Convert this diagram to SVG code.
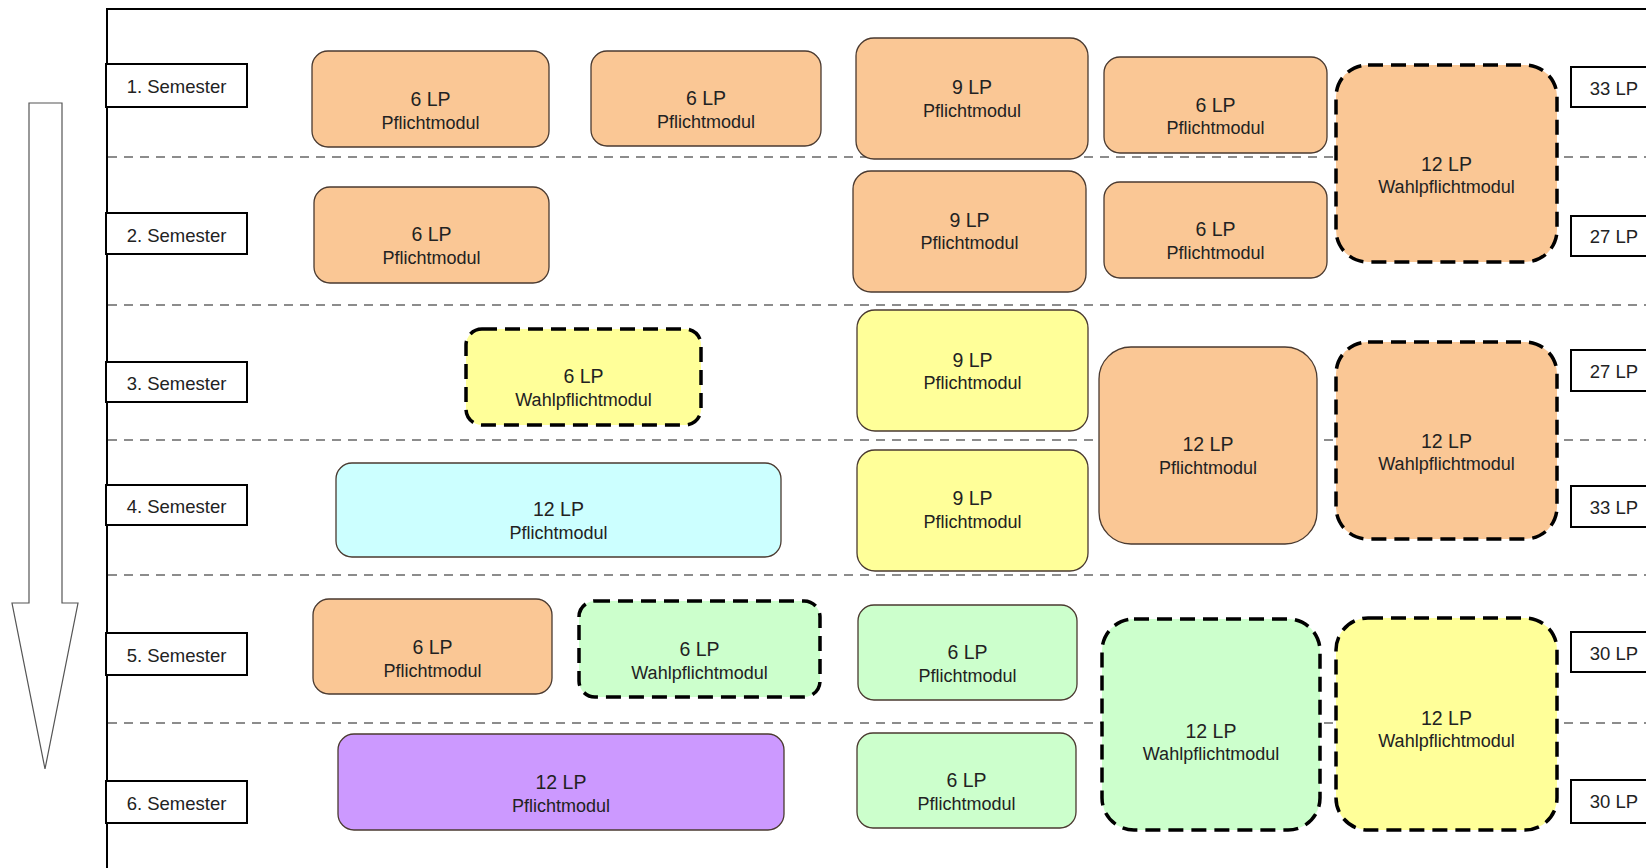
<svg xmlns="http://www.w3.org/2000/svg" width="1646" height="868" viewBox="0 0 1646 868">
<style>
text{font-family:"Liberation Sans",Arial,sans-serif;fill:#222;text-anchor:middle}
.lp{font-size:19.5px}
.ty{font-size:18px}
.sem{font-size:18.5px}
.m{stroke:#4a3a30;stroke-width:1.3}
.d{stroke:#000;stroke-width:3.5;stroke-dasharray:15 8}
.or{fill:#FAC795}.ye{fill:#FFFF99}.cy{fill:#CCFFFF}.gr{fill:#CCFFCC}.pu{fill:#CC99FF}
.sep{stroke:#8c8c8c;stroke-width:2;stroke-dasharray:9 7;fill:none}
.lbl{fill:#fff;stroke:#000;stroke-width:2}
</style>
<rect width="1646" height="868" fill="#fff"/>
<g id="arrow"><polygon points="29,103 62,103 62,603 78,603 45,769 12,603 29,603" fill="#fff" stroke="#555" stroke-width="1.2"/></g>
<g id="frame" fill="none" stroke="#000" stroke-width="2"><path d="M107,868 V9 H1646"/></g>
<g id="separators">
<line class="sep" x1="108" y1="157" x2="1646" y2="157"/>
<line class="sep" x1="108" y1="305" x2="1646" y2="305"/>
<line class="sep" x1="108" y1="440" x2="1646" y2="440"/>
<line class="sep" x1="108" y1="575" x2="1646" y2="575"/>
<line class="sep" x1="108" y1="723" x2="1646" y2="723"/>
</g>
<g id="m1"><rect class="m or" x="312" y="51" width="237" height="96" rx="16"/><text class="lp" x="430.5" y="106">6 LP</text><text class="ty" x="430.5" y="128.5">Pflichtmodul</text></g>
<g id="m2"><rect class="m or" x="314" y="187" width="235" height="96" rx="16"/><text class="lp" x="431.5" y="241">6 LP</text><text class="ty" x="431.5" y="263.5">Pflichtmodul</text></g>
<g id="m3"><rect class="d ye" x="466" y="329" width="235" height="96" rx="16"/><text class="lp" x="583.5" y="383">6 LP</text><text class="ty" x="583.5" y="405.5">Wahlpflichtmodul</text></g>
<g id="m4"><rect class="m cy" x="336" y="463" width="445" height="94" rx="16"/><text class="lp" x="558.5" y="516">12 LP</text><text class="ty" x="558.5" y="538.5">Pflichtmodul</text></g>
<g id="m5"><rect class="m or" x="313" y="599" width="239" height="95" rx="16"/><text class="lp" x="432.5" y="654">6 LP</text><text class="ty" x="432.5" y="676.5">Pflichtmodul</text></g>
<g id="m6"><rect class="d gr" x="579" y="601" width="241" height="96" rx="16"/><text class="lp" x="699.5" y="656">6 LP</text><text class="ty" x="699.5" y="678.5">Wahlpflichtmodul</text></g>
<g id="m7"><rect class="m pu" x="338" y="734" width="446" height="96" rx="16"/><text class="lp" x="561" y="789">12 LP</text><text class="ty" x="561" y="811.5">Pflichtmodul</text></g>
<g id="m8"><rect class="m or" x="591" y="51" width="230" height="95" rx="16"/><text class="lp" x="706" y="105">6 LP</text><text class="ty" x="706" y="127.5">Pflichtmodul</text></g>
<g id="m9"><rect class="m or" x="856" y="38" width="232" height="121" rx="18"/><text class="lp" x="972" y="94">9 LP</text><text class="ty" x="972" y="116.5">Pflichtmodul</text></g>
<g id="m10"><rect class="m or" x="853" y="171" width="233" height="121" rx="18"/><text class="lp" x="969.5" y="226.5">9 LP</text><text class="ty" x="969.5" y="249">Pflichtmodul</text></g>
<g id="m11"><rect class="m ye" x="857" y="310" width="231" height="121" rx="18"/><text class="lp" x="972.5" y="367">9 LP</text><text class="ty" x="972.5" y="389">Pflichtmodul</text></g>
<g id="m12"><rect class="m ye" x="857" y="450" width="231" height="121" rx="18"/><text class="lp" x="972.5" y="505">9 LP</text><text class="ty" x="972.5" y="527.5">Pflichtmodul</text></g>
<g id="m13"><rect class="m gr" x="858" y="605" width="219" height="95" rx="16"/><text class="lp" x="967.5" y="659">6 LP</text><text class="ty" x="967.5" y="681.5">Pflichtmodul</text></g>
<g id="m14"><rect class="m gr" x="857" y="733" width="219" height="95" rx="16"/><text class="lp" x="966.5" y="787">6 LP</text><text class="ty" x="966.5" y="809.5">Pflichtmodul</text></g>
<g id="m15"><rect class="m or" x="1104" y="57" width="223" height="96" rx="16"/><text class="lp" x="1215.5" y="111.5">6 LP</text><text class="ty" x="1215.5" y="134">Pflichtmodul</text></g>
<g id="m16"><rect class="m or" x="1104" y="182" width="223" height="96" rx="16"/><text class="lp" x="1215.5" y="236">6 LP</text><text class="ty" x="1215.5" y="258.5">Pflichtmodul</text></g>
<g id="m17"><rect class="m or" x="1099" y="347" width="218" height="197" rx="32"/><text class="lp" x="1208" y="451">12 LP</text><text class="ty" x="1208" y="473.5">Pflichtmodul</text></g>
<g id="m18"><rect class="d gr" x="1102" y="619" width="218" height="211" rx="32"/><text class="lp" x="1211" y="737.5">12 LP</text><text class="ty" x="1211" y="760">Wahlpflichtmodul</text></g>
<g id="m19"><rect class="d or" x="1336" y="65" width="221" height="197" rx="32"/><text class="lp" x="1446.5" y="170.5">12 LP</text><text class="ty" x="1446.5" y="193">Wahlpflichtmodul</text></g>
<g id="m20"><rect class="d or" x="1336" y="342" width="221" height="197" rx="32"/><text class="lp" x="1446.5" y="447.5">12 LP</text><text class="ty" x="1446.5" y="470">Wahlpflichtmodul</text></g>
<g id="m21"><rect class="d ye" x="1336" y="618" width="221" height="212" rx="32"/><text class="lp" x="1446.5" y="724.5">12 LP</text><text class="ty" x="1446.5" y="747">Wahlpflichtmodul</text></g>
<g id="s1"><rect class="lbl" x="106" y="64" width="141" height="43"/><text class="sem" x="176.5" y="93">1. Semester</text></g>
<g id="s2"><rect class="lbl" x="106" y="213" width="141" height="41"/><text class="sem" x="176.5" y="241.5">2. Semester</text></g>
<g id="s3"><rect class="lbl" x="106" y="362" width="141" height="40"/><text class="sem" x="176.5" y="389.5">3. Semester</text></g>
<g id="s4"><rect class="lbl" x="106" y="485" width="141" height="40"/><text class="sem" x="176.5" y="512.5">4. Semester</text></g>
<g id="s5"><rect class="lbl" x="106" y="633" width="141" height="42"/><text class="sem" x="176.5" y="662">5. Semester</text></g>
<g id="s6"><rect class="lbl" x="106" y="781" width="141" height="42"/><text class="sem" x="176.5" y="810">6. Semester</text></g>
<g id="l1"><rect class="lbl" x="1571" y="67" width="88" height="40"/><text class="sem" x="1614" y="95">33 LP</text></g>
<g id="l2"><rect class="lbl" x="1571" y="216" width="88" height="40"/><text class="sem" x="1614" y="243">27 LP</text></g>
<g id="l3"><rect class="lbl" x="1571" y="350" width="88" height="41"/><text class="sem" x="1614" y="378">27 LP</text></g>
<g id="l4"><rect class="lbl" x="1571" y="486" width="88" height="41"/><text class="sem" x="1614" y="513.5">33 LP</text></g>
<g id="l5"><rect class="lbl" x="1571" y="632" width="88" height="40"/><text class="sem" x="1614" y="660">30 LP</text></g>
<g id="l6"><rect class="lbl" x="1571" y="780" width="88" height="43"/><text class="sem" x="1614" y="808">30 LP</text></g>
</svg>
